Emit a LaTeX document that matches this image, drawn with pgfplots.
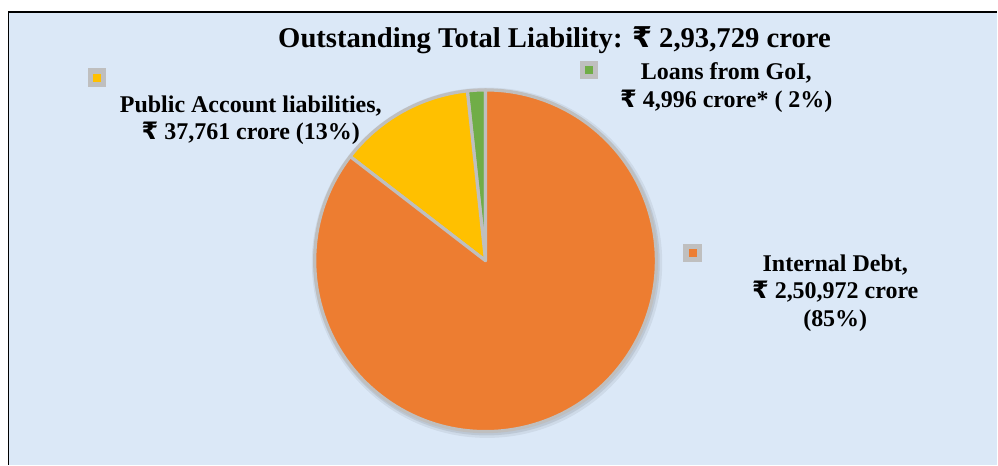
\documentclass[border=0pt]{standalone}
\usepackage{pgfplots}
\pgfplotsset{compat=1.18}
\usepackage{pgfplotstable}
\usepackage{fontspec}
\setmainfont{Liberation Serif}
\newfontfamily\rupfont{DejaVu Sans}
\newcommand\rs{{\rupfont\bfseries ₹}}
\definecolor{bgblue}{RGB}{219,232,247}
\definecolor{pieorange}{RGB}{237,125,49}
\definecolor{pieyellow}{RGB}{255,192,0}
\definecolor{piegreen}{RGB}{112,173,71}
\definecolor{piegray}{RGB}{191,191,191}
\pgfplotstableread{
label value
Internal 250972
Public 37761
Loans 4996
}\pietable
\begin{document}
\begin{tikzpicture}
\pgfplotstablegetelem{0}{value}\of\pietable \edef\vA{\pgfplotsretval}
\pgfplotstablegetelem{1}{value}\of\pietable \edef\vB{\pgfplotsretval}
\pgfplotstablegetelem{2}{value}\of\pietable \edef\vC{\pgfplotsretval}
\edef\sG{90}
\edef\eG{\fpeval{90+360*\vC/(\vA+\vB+\vC)}}
\edef\eY{\fpeval{\eG+360*\vB/(\vA+\vB+\vC)}}
\edef\eO{450}
\def\R{128.25pt}
\begin{axis}[
  scale only axis, width=748.5pt, height=348.75pt,
  xmin=0, xmax=998, ymin=0, ymax=465,
  hide axis, clip=false,
]
% background
\fill[white] (axis cs:0,0) rectangle (axis cs:998,465);
\fill[bgblue] (axis cs:8.5,0) rectangle (axis cs:998,453);
\draw[black, line width=1.4pt] (axis cs:8.5,0) -- (axis cs:8.5,453) -- (axis cs:998,453);
% pie shadow
\fill[black, opacity=0.06] (axis cs:487.5,202) circle[radius=131.5pt];
\fill[black, opacity=0.08] (axis cs:487,202.5) circle[radius=130pt];
% slices
\filldraw[fill=piegreen, draw=piegray, line width=2.4pt, line join=round]
  (axis cs:486,204) -- ++(\sG:\R) arc[start angle=\sG, end angle=\eG, radius=\R] -- cycle;
\filldraw[fill=pieyellow, draw=piegray, line width=2.4pt, line join=round]
  (axis cs:486,204) -- ++(\eG:\R) arc[start angle=\eG, end angle=\eY, radius=\R] -- cycle;
\filldraw[fill=pieorange, draw=piegray, line width=2.4pt, line join=round]
  (axis cs:486,204) -- ++(\eY:\R) arc[start angle=\eY, end angle=\eO, radius=\R] -- cycle;
% legend keys
\addplot[only marks, mark=square*, mark size=6.5pt, mark options={fill=piegray, draw=piegray, rounded corners=1.5pt}]
  coordinates {(97,387.5) (589,395) (693,212)};
\addplot[only marks, mark=square*, mark size=2.6pt, mark options={fill=pieyellow, draw=pieyellow}] coordinates {(97,387.5)};
\addplot[only marks, mark=square*, mark size=2.6pt, mark options={fill=piegreen, draw=piegreen}] coordinates {(589,395)};
\addplot[only marks, mark=square*, mark size=2.6pt, mark options={fill=pieorange, draw=pieorange}] coordinates {(693,212)};
% texts
\node[anchor=base, font=\bfseries\fontsize{21.5}{25}\selectfont] at (axis cs:555,417) {Outstanding Total Liability: \rs\ 2,93,729 crore};
\node[anchor=base, font=\bfseries\fontsize{18}{21}\selectfont] at (axis cs:251,352) {Public Account liabilities,};
\node[anchor=base, font=\bfseries\fontsize{18}{21}\selectfont] at (axis cs:251,325) {\rs\ 37,761 crore (13\%)};
\node[anchor=base, font=\bfseries\fontsize{18}{21}\selectfont] at (axis cs:727,385) {Loans from GoI,};
\node[anchor=base, font=\bfseries\fontsize{18}{21}\selectfont] at (axis cs:727,357) {\rs\ 4,996 crore* ( 2\%)};
\node[anchor=base, font=\bfseries\fontsize{18}{21}\selectfont] at (axis cs:836,193) {Internal Debt,};
\node[anchor=base, font=\bfseries\fontsize{18}{21}\selectfont] at (axis cs:836,166) {\rs\ 2,50,972 crore};
\node[anchor=base, font=\bfseries\fontsize{18}{21}\selectfont] at (axis cs:836,138) {(85\%)};
\end{axis}
\end{tikzpicture}
\end{document}
